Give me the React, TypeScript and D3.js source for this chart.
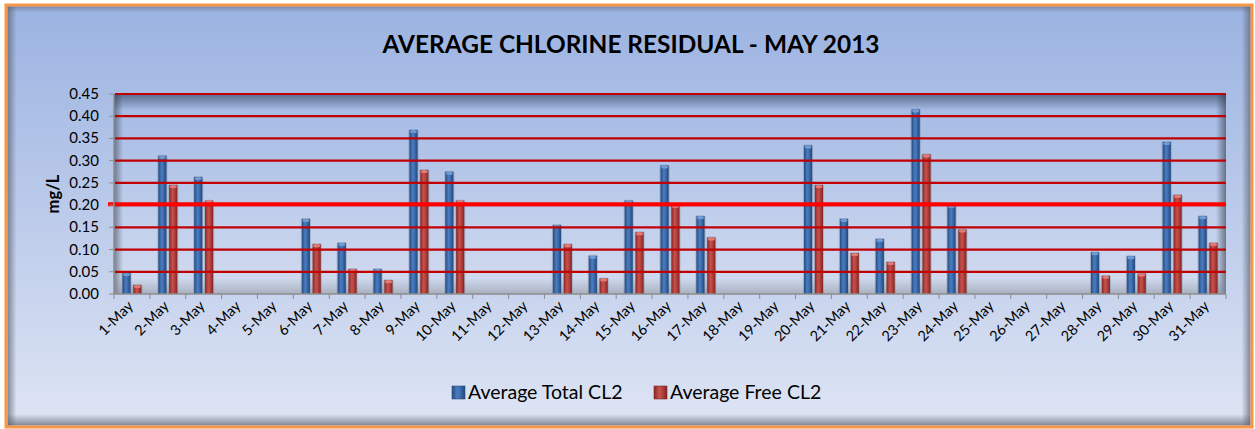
import React, { useRef, useEffect } from "react";
import * as d3 from "d3";

const days = [
  "1-May", "2-May", "3-May", "4-May", "5-May", "6-May", "7-May", "8-May", "9-May", "10-May",
  "11-May", "12-May", "13-May", "14-May", "15-May", "16-May", "17-May", "18-May", "19-May", "20-May",
  "21-May", "22-May", "23-May", "24-May", "25-May", "26-May", "27-May", "28-May", "29-May", "30-May", "31-May",
];

// null = no sample that day
const totalCl2: (number | null)[] = [
  0.047, 0.311, 0.263, null, null, 0.169, 0.115, 0.056, 0.369, 0.275,
  null, null, 0.155, 0.086, 0.21, 0.289, 0.175, null, null, 0.334,
  0.169, 0.124, 0.415, 0.2, null, null, null, 0.094, 0.085, 0.342, 0.175,
];
const freeCl2: (number | null)[] = [
  0.02, 0.245, 0.21, null, null, 0.112, 0.056, 0.031, 0.279, 0.21,
  null, null, 0.112, 0.035, 0.139, 0.2, 0.127, null, null, 0.245,
  0.092, 0.072, 0.314, 0.145, null, null, null, 0.041, 0.046, 0.223, 0.115,
];

const yTicks = [0, 0.05, 0.1, 0.15, 0.2, 0.25, 0.3, 0.35, 0.4, 0.45];
const targetLevel = 0.202;

const seriesNames = ["Average Total CL2", "Average Free CL2"];
const FONT = "Lato, 'Open Sans', sans-serif";

export default function App() {
  const svgRef = useRef<SVGSVGElement>(null);

  useEffect(() => {
    if (!svgRef.current) return;
    const svg = d3.select(svgRef.current);
    svg.selectAll("*").remove();

    const width = 1255;
    const height = 429;
    const plot = { left: 114, right: 1226, top: 94, bottom: 294 };

    svg.attr("width", width).attr("height", height);

    const defs = svg.append("defs");
    const lin = (id: string, x2: number, y2: number, stops: [number, string, number?][]) => {
      const gr = defs.append("linearGradient").attr("id", id)
        .attr("x1", 0).attr("y1", 0).attr("x2", x2).attr("y2", y2);
      stops.forEach(([o, c, op]) => gr.append("stop").attr("offset", o).attr("stop-color", c)
        .attr("stop-opacity", op == null ? 1 : op));
    };
    lin("bg", 0, 1, [[0, "#9bb3e1"], [0.5, "#bccbea"], [1, "#dee5f4"]]);
    lin("plotbg", 0, 1, [[0, "#a2b9e4"], [1, "#d3dcf0"]]);
    lin("shTop", 0, 1, [[0, "#2a3550", 0.6], [1, "#2a3550", 0]]);
    lin("shLeft", 1, 0, [[0, "#303848", 0.55], [1, "#303848", 0]]);
    lin("shRight", 1, 0, [[0, "#303848", 0], [1, "#303848", 0.6]]);
    lin("floor", 0, 1, [[0, "#808690", 0], [1, "#808690", 0.5]]);
    lin("edgeL", 1, 0, [[0, "#5a6070", 0.7], [1, "#5a6070", 0]]);
    lin("edgeR", 1, 0, [[0, "#5a6070", 0], [1, "#5a6070", 0.7]]);
    lin("edgeB", 0, 1, [[0, "#5a6070", 0], [1, "#5a6070", 0.7]]);
    lin("edgeT", 0, 1, [[0, "#5a6070", 0.5], [1, "#5a6070", 0]]);
    lin("blueBar", 1, 0, [[0, "#244b80"], [0.4, "#4a7cc0"], [0.6, "#3f70b2"], [1, "#224678"]]);
    lin("redBar", 1, 0, [[0, "#8a2624"], [0.4, "#c6504c"], [0.6, "#b84542"], [1, "#832321"]]);
    const fills = ["url(#blueBar)", "url(#redBar)"];
    const capColors = ["#6f9ad2", "#e07a76"];

    // Outer frame
    svg.append("rect").attr("x", 6).attr("y", 5).attr("width", 1246).attr("height", 422)
      .attr("fill", "url(#bg)");
    svg.append("rect").attr("x", 7.5).attr("y", 6.5).attr("width", 9).attr("height", 419).attr("fill", "url(#edgeL)");
    svg.append("rect").attr("x", 1241.5).attr("y", 6.5).attr("width", 9).attr("height", 419).attr("fill", "url(#edgeR)");
    svg.append("rect").attr("x", 7.5).attr("y", 414).attr("width", 1243).attr("height", 11.5).attr("fill", "url(#edgeB)");
    svg.append("rect").attr("x", 7.5).attr("y", 6.5).attr("width", 1243).attr("height", 6).attr("fill", "url(#edgeT)");
    svg.append("rect").attr("x", 6).attr("y", 5).attr("width", 1246).attr("height", 422)
      .attr("fill", "none").attr("stroke", "#f79646").attr("stroke-width", 3);

    // Title
    svg.append("text")
      .attr("x", 631).attr("y", 53)
      .attr("text-anchor", "middle")
      .attr("font-family", FONT).attr("font-weight", 700).attr("font-size", 24)
      .attr("textLength", 497).attr("lengthAdjust", "spacingAndGlyphs")
      .attr("fill", "#000")
      .text("AVERAGE CHLORINE RESIDUAL - MAY 2013");

    const x = d3.scaleBand<string>().domain(days).range([plot.left, plot.right]);
    const bw = x.bandwidth();
    const x1 = d3.scaleBand<number>().domain([0, 1]).range([bw / 2 - 9.5, bw / 2 + 9.5]).paddingInner(0.25);
    const y = d3.scaleLinear().domain([0, 0.45]).range([plot.bottom, plot.top]);

    // Plot area walls
    svg.append("rect").attr("x", plot.left).attr("y", plot.top)
      .attr("width", plot.right - plot.left).attr("height", plot.bottom - plot.top).attr("fill", "url(#plotbg)");
    svg.append("rect").attr("x", plot.left).attr("y", plot.top).attr("width", plot.right - plot.left).attr("height", 16)
      .attr("fill", "url(#shTop)");
    svg.append("rect").attr("x", plot.left).attr("y", plot.top).attr("width", 9).attr("height", plot.bottom - plot.top)
      .attr("fill", "url(#shLeft)");
    svg.append("rect").attr("x", plot.right - 10).attr("y", plot.top).attr("width", 10).attr("height", plot.bottom - plot.top)
      .attr("fill", "url(#shRight)");
    svg.append("rect").attr("x", plot.left).attr("y", plot.bottom - 16).attr("width", plot.right - plot.left).attr("height", 16)
      .attr("fill", "url(#floor)");

    // Bars
    const g = svg.append("g");
    [totalCl2, freeCl2].forEach((vals, si) => {
      days.forEach((d, i) => {
        const v = vals[i];
        if (v == null) return;
        const bx = (x(d) || 0) + (x1(si) || 0);
        const w = x1.bandwidth();
        const top = y(v);
        g.append("rect").attr("x", bx - 1).attr("y", top - 1).attr("width", w + 2).attr("height", plot.bottom - top + 1)
          .attr("fill", "#505868").attr("opacity", 0.25).attr("rx", 2);
        g.append("rect").attr("x", bx).attr("y", top).attr("width", w).attr("height", plot.bottom - top)
          .attr("fill", fills[si]);
        g.append("ellipse").attr("cx", bx + w / 2).attr("cy", top + 1.5).attr("rx", w / 2 - 0.5).attr("ry", 1.6)
          .attr("fill", capColors[si]);
      });
    });

    // Gridlines
    svg.append("g").selectAll("line")
      .data(yTicks.filter((t) => t > 0))
      .enter().append("line")
      .attr("x1", plot.left + 1).attr("x2", plot.right)
      .attr("y1", (t: number) => y(t)).attr("y2", (t: number) => y(t))
      .attr("stroke", "#c00000").attr("stroke-width", 2.2);

    // Target line
    svg.append("line")
      .attr("x1", 108).attr("x2", plot.right)
      .attr("y1", y(targetLevel)).attr("y2", y(targetLevel))
      .attr("stroke", "#ff0000").attr("stroke-width", 4);

    // Axes
    const axisColor = "#8c8c8c";
    svg.append("line").attr("x1", plot.left).attr("x2", plot.left).attr("y1", plot.top).attr("y2", plot.bottom)
      .attr("stroke", axisColor).attr("stroke-width", 1.5);
    svg.append("line").attr("x1", plot.left).attr("x2", plot.right).attr("y1", plot.bottom).attr("y2", plot.bottom)
      .attr("stroke", axisColor).attr("stroke-width", 1.5);

    yTicks.forEach((t) => {
      svg.append("line").attr("x1", plot.left - 5).attr("x2", plot.left).attr("y1", y(t)).attr("y2", y(t))
        .attr("stroke", axisColor).attr("stroke-width", 1);
      svg.append("text").attr("x", 99).attr("y", y(t) + 5)
        .attr("text-anchor", "end").attr("font-family", FONT).attr("font-size", 15).attr("fill", "#000")
        .text(t.toFixed(2));
    });

    const bounds = days.map((d) => x(d) || 0).concat([plot.right]);
    bounds.forEach((bx) => {
      svg.append("line").attr("x1", bx).attr("x2", bx).attr("y1", plot.bottom).attr("y2", plot.bottom + 5)
        .attr("stroke", axisColor).attr("stroke-width", 1);
    });

    days.forEach((d) => {
      const cx = (x(d) || 0) + bw / 2 + 2;
      svg.append("text")
        .attr("transform", `translate(${cx},${plot.bottom + 13}) rotate(-45)`)
        .attr("text-anchor", "end")
        .attr("font-family", FONT).attr("font-size", 14.5).attr("fill", "#000")
        .text(d);
    });

    // Y axis title
    svg.append("text")
      .attr("transform", "translate(59,194) rotate(-90)")
      .attr("text-anchor", "middle")
      .attr("font-family", FONT).attr("font-weight", 700).attr("font-size", 16.5).attr("fill", "#000")
      .text("mg/L");

    // Legend
    const legendX = [452, 654];
    seriesNames.forEach((name, i) => {
      svg.append("rect").attr("x", legendX[i]).attr("y", 386).attr("width", 13).attr("height", 13)
        .attr("fill", fills[i]).attr("stroke", i === 0 ? "#2c4d7e" : "#7e2a28").attr("stroke-width", 0.6);
      svg.append("text").attr("x", legendX[i] + 16).attr("y", 399)
        .attr("font-family", FONT).attr("font-size", 19.5).attr("fill", "#000")
        .text(name);
    });
  }, []);

  return <svg ref={svgRef} style={{ position: "absolute", left: 0, top: 0 }} />;
}
